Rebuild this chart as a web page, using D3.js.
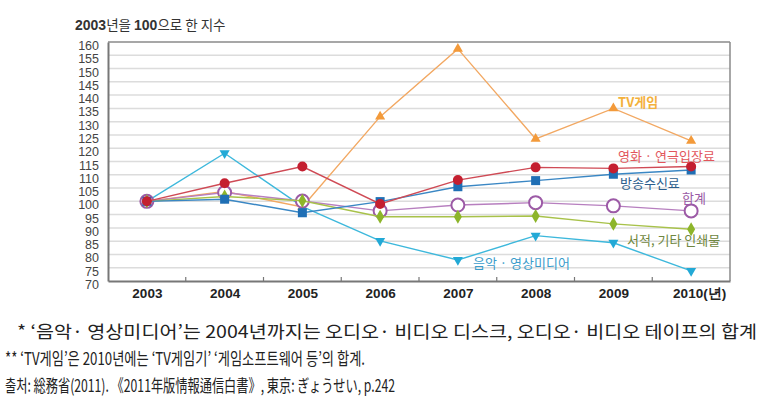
<!DOCTYPE html>
<html><head><meta charset="utf-8">
<script src="https://cdn.jsdelivr.net/npm/d3@7"></script>
<style>
html,body{margin:0;padding:0;background:#fff;}
svg{display:block;}
</style></head>
<body>
<svg id="c" width="780" height="416"></svg>
<script>
const years = ["2003","2004","2005","2006","2007","2008","2009","2010"];
const yearLabels = ["2003","2004","2005","2006","2007","2008","2009","2010(년)"];
const yTicks = [70,75,80,85,90,95,100,105,110,115,120,125,130,135,140,145,150,155,160];

const tvGame   = [100,103.7,97.9,131.9,157.4,123.5,135.0,122.8];
const music    = [100,118.1,98.0,85.1,77.9,87.1,84.4,73.8];
const total    = [100,103.3,100.1,96.4,98.6,99.5,98.3,96.4];
const books    = [100,101.8,100.2,94.2,94.2,94.5,91.5,89.5];
const broadcast= [100,100.8,95.7,99.9,105.5,107.8,110.2,111.8];
const movie    = [100,106.8,113.1,99.0,108.0,112.8,112.4,113.1];

const seriesNames = ["TV게임","음악 · 영상미디어","합계","서적, 기타 인쇄물","방송수신료","영화 · 연극입장료"];

const svg = d3.select("#c");
const L = 108, R = 730, T = 42, B = 281;
const x = d3.scalePoint().domain(years).range([L, R]).padding(0.5);
const y = d3.scaleLinear().domain([70,160]).range([B, T]);

// grid
svg.append("g").selectAll("line").data(yTicks.filter(d=>d>70 && d<160)).join("line")
  .attr("x1", L).attr("x2", R).attr("y1", d=>y(d)).attr("y2", d=>y(d))
  .attr("stroke", "#dcdcdc").attr("stroke-width", 1.5);

// frame
svg.append("line").attr("x1",L).attr("x2",R).attr("y1",T).attr("y2",T).attr("stroke","#8a8a8a").attr("stroke-width",1.5);
svg.append("line").attr("x1",R).attr("x2",R).attr("y1",T).attr("y2",B).attr("stroke","#8a8a8a").attr("stroke-width",1.5);

// y axis
const yAxis = d3.axisLeft(y).tickValues(yTicks).tickSize(0).tickPadding(9);
const gy = svg.append("g").attr("transform",`translate(${L},0)`).call(yAxis);
gy.select(".domain").attr("stroke","#777").attr("stroke-width",2);
gy.selectAll("g.tick").attr("transform", d=>`translate(0,${y(d)+4})`);
gy.selectAll("text").attr("font-family","'Liberation Sans', Arial, sans-serif")
  .attr("font-size",12.5).attr("fill","#444");

// x axis
const band = (R-L)/years.length;
const xAxis = d3.axisBottom(x).tickSize(0).tickPadding(7).tickFormat((d,i)=>yearLabels[i]);
const gx = svg.append("g").attr("transform",`translate(0,${B})`).call(xAxis);
gx.select(".domain").attr("stroke","#777").attr("stroke-width",2);
gx.selectAll("text").attr("font-family","'Liberation Sans', Arial, sans-serif")
  .attr("font-size",13.5).attr("font-weight","bold").attr("fill","#222");
gx.selectAll("g.tick").filter((d,i)=>i===7).select("text").attr("dx", 8);
// inner ticks between categories
svg.append("g").selectAll("line").data(d3.range(1, years.length)).join("line")
  .attr("x1", i=>L+i*band).attr("x2", i=>L+i*band).attr("y1", B).attr("y2", B-4)
  .attr("stroke","#777").attr("stroke-width",1.2);

// axis title
const at = svg.append("text").attr("x",75).attr("y",30)
  .attr("font-family","'Liberation Sans','Noto Sans CJK KR',sans-serif").attr("font-size",14).attr("fill","#333");
at.append("tspan").attr("font-weight","bold").text("2003");
at.append("tspan").attr("font-family","'Noto Sans CJK KR'").attr("font-size",13.5).text("년을 ");
at.append("tspan").attr("font-weight","bold").text("100");
at.append("tspan").attr("font-family","'Noto Sans CJK KR'").attr("font-size",13.5).text("으로 한 지수");

const line = d3.line().x((d,i)=>x(years[i])).y(d=>y(d));

function drawSeries(vals, lineColor, markerFn) {
  svg.append("path").datum(vals).attr("d", line).attr("fill","none")
    .attr("stroke", lineColor).attr("stroke-width", 1.4);
  const g = svg.append("g");
  vals.forEach((v,i)=> markerFn(g, x(years[i]), y(v)));
}

// orange: TV game - up triangles
drawSeries(tvGame, "#f2a862", (g,cx,cy)=>{
  g.append("path").attr("d", d3.symbol(d3.symbolTriangle, 44)()).attr("transform",`translate(${cx},${cy})`).attr("fill","#f39a3a");
});
// cyan: music - down triangles
drawSeries(music, "#3db8dc", (g,cx,cy)=>{
  g.append("path").attr("d", d3.symbol(d3.symbolTriangle, 44)()).attr("transform",`translate(${cx},${cy}) rotate(180)`).attr("fill","#22a9d6");
});
// purple: total - open circles
drawSeries(total, "#b77fbf", (g,cx,cy)=>{
  g.append("circle").attr("cx",cx).attr("cy",cy).attr("r",6.5).attr("fill","#fff").attr("stroke","#9c5aa6").attr("stroke-width",2);
});
// green: books - diamonds
drawSeries(books, "#a8c24a", (g,cx,cy)=>{
  g.append("path").attr("d", d3.symbol(d3.symbolDiamond, 56)()).attr("transform",`translate(${cx},${cy})`).attr("fill","#8db52a");
});
// blue: broadcast - squares
drawSeries(broadcast, "#3a87c4", (g,cx,cy)=>{
  g.append("rect").attr("x",cx-4.5).attr("y",cy-4.5).attr("width",9).attr("height",9).attr("fill","#1f6fb5");
});
// red: movie - filled circles
drawSeries(movie, "#cf4a55", (g,cx,cy)=>{
  g.append("circle").attr("cx",cx).attr("cy",cy).attr("r",5).attr("fill","#c41f30");
});

// series labels
const labels = [
  {t:seriesNames[0], x:618, y:102, c:"#f3b13c", w:"bold"},
  {t:seriesNames[5], x:618, y:156, c:"#e2555b", w:"normal"},
  {t:seriesNames[4], x:620, y:183, c:"#2c5d8c", w:"normal"},
  {t:seriesNames[2], x:682, y:198, c:"#9a5aa5", w:"normal"},
  {t:seriesNames[3], x:627, y:240, c:"#6f8740", w:"normal"},
  {t:seriesNames[1], x:473, y:263, c:"#3a9ccb", w:"normal"}
];
svg.append("g").selectAll("text").data(labels).join("text")
  .attr("x",d=>d.x).attr("y",d=>d.y).attr("dy","0.35em")
  .attr("font-family","'Noto Sans CJK KR',sans-serif").attr("font-size",13)
  .attr("font-weight",d=>d.w).attr("fill",d=>d.c).text(d=>d.t);

// footnotes
const notes = [
  {t:"* ‘음악· 영상미디어’는 2004년까지는 오디오· 비디오 디스크, 오디오· 비디오 테이프의 합계", x:17, y:338, w:740},
  {t:"** ‘TV게임’은 2010년에는 ‘TV게임기’ ‘게임소프트웨어 등’의 합계.", x:5, y:365, w:360},
  {t:"출처: 総務省(2011). 《2011年版情報通信白書》, 東京: ぎょうせい, p.242", x:5, y:392, w:390}
];
svg.append("g").selectAll("text").data(notes).join("text")
  .attr("x",d=>d.x).attr("y",d=>d.y)
  .attr("font-family","'Noto Sans CJK KR',sans-serif").attr("font-size",17.5)
  .attr("fill","#222").attr("textLength",d=>d.w).attr("lengthAdjust","spacingAndGlyphs")
  .text(d=>d.t);
</script>
</body></html>
